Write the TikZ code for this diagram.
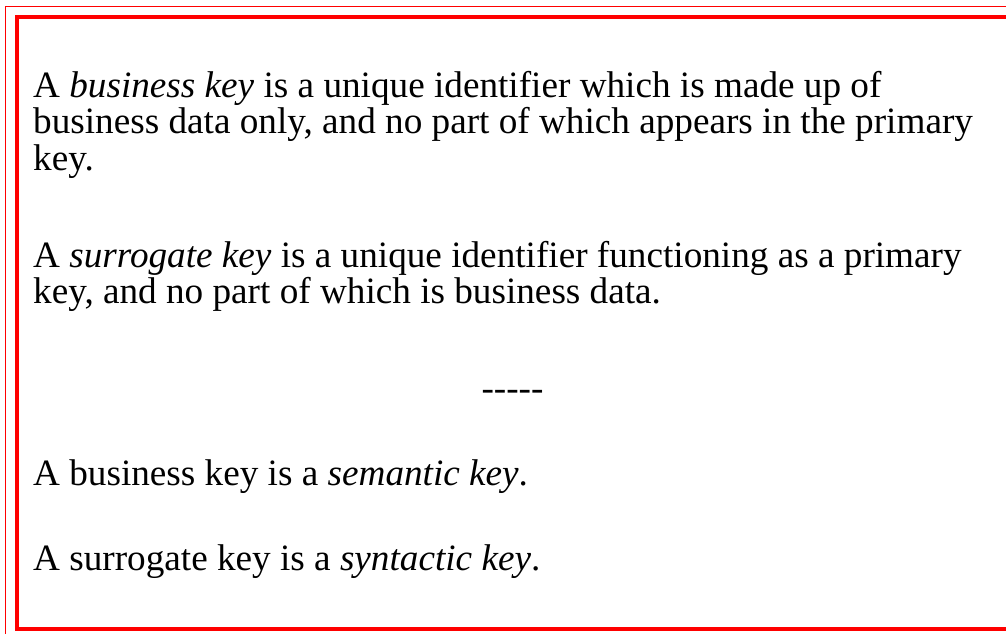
\documentclass[tikz,border=0pt]{standalone}
\usepackage{fontspec}
\setmainfont{Liberation Serif}
\definecolor{framered}{RGB}{255,0,0}
\begin{document}
\begin{tikzpicture}[x=1pt,y=-1pt,
  line/.style={anchor=base west,inner sep=0pt,font=\fontsize{37.2}{42}\selectfont},
  sep/.style={anchor=base,inner sep=0pt,font=\fontsize{37.2}{42}\selectfont}]
\useasboundingbox (0,0) rectangle (1006,634);
\clip (0,0) rectangle (1006,634);
% double red border, open towards the right
\draw[framered,line width=1.5pt] (5.6,6.6) rectangle (1030,660);
\draw[framered,line width=4pt] (16.5,17.2) rectangle (1030,629);
% first definition
\node[line] (b1) at (33,97) {A \textit{business key} is a unique identifier which is made up of};
\node[line] (b2) at (33,133.5) {business data only, and no part of which appears in the primary};
\node[line] (b3) at (33,170) {key.};
% second definition
\node[line] (s1) at (33,267) {A \textit{surrogate key} is a unique identifier functioning as a primary};
\node[line] (s2) at (33,303.5) {key, and no part of which is business data.};
% separator
\node[sep] (dash) at (512.5,400) {-{}-{}-{}-{}-};
% closing statements
\node[line] (c1) at (33,485) {A business key is a \textit{semantic key}.};
\node[line] (c2) at (33,570) {A surrogate key is a \textit{syntactic key}.};
\end{tikzpicture}
\end{document}
